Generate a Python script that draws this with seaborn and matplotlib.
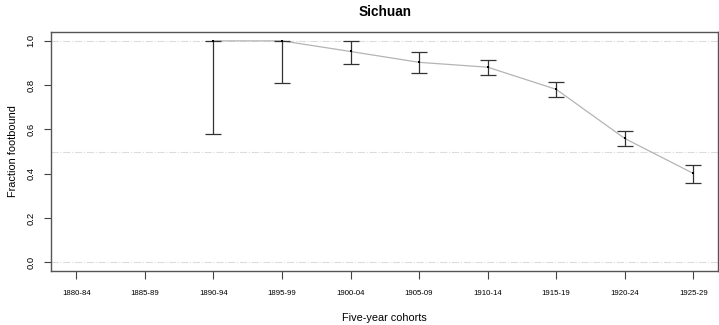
import numpy as np
import pandas as pd
import matplotlib
matplotlib.use("Agg")
import matplotlib.pyplot as plt
import seaborn as sns

cohorts = ['1880-84', '1885-89', '1890-94', '1895-99', '1900-04',
           '1905-09', '1910-14', '1915-19', '1920-24', '1925-29']
fraction = [np.nan, np.nan, 1.0, 1.0, 0.952, 0.903, 0.881, 0.781, 0.559, 0.401]
lower = [np.nan, np.nan, 0.577, 0.81, 0.897, 0.857, 0.846, 0.747, 0.525, 0.360]
upper = [np.nan, np.nan, 1.0, 1.0, 1.0, 0.949, 0.914, 0.814, 0.593, 0.440]
grid_levels = [0.0, 0.5, 1.0]

df = pd.DataFrame({'pos': np.arange(len(cohorts)), 'cohort': cohorts,
                   'fraction': fraction, 'lower': lower, 'upper': upper})
obs = df.dropna()

sns.set_style('white')
plt.rcParams['font.family'] = ['Liberation Sans', 'DejaVu Sans']
plt.rcParams['text.color'] = 'black'
plt.rcParams['axes.labelcolor'] = 'black'
plt.rcParams['xtick.color'] = 'black'
plt.rcParams['ytick.color'] = 'black'

fig = plt.figure(figsize=(7.19, 3.25), dpi=100)
ax = fig.add_axes([0.0709, 0.166, 0.9277, 0.7355])

for g in grid_levels:
    ax.axhline(g, color='#dcdcdc', lw=0.8, ls='-.', zorder=0)

sns.lineplot(data=obs, x='pos', y='fraction', color='#b4b4b4', lw=0.9, ax=ax, zorder=2)
ax.errorbar(obs['pos'], obs['fraction'],
            yerr=[obs['fraction'] - obs['lower'], obs['upper'] - obs['fraction']],
            fmt='none', ecolor='#333333', elinewidth=0.9, capsize=6, capthick=0.9, zorder=3)
sns.scatterplot(data=obs, x='pos', y='fraction', marker='s', s=2.5, color='black',
                edgecolor='black', linewidth=0, ax=ax, zorder=4)

ax.set_xlim(-0.37, 9.36)
ax.set_ylim(-0.04, 1.04)
ax.set_xticks(df['pos'])
ax.set_xticklabels(cohorts, fontsize=5.6)
ax.set_yticks([0, 0.2, 0.4, 0.6, 0.8, 1.0])
ax.set_yticklabels(['0.0', '0.2', '0.4', '0.6', '0.8', '1.0'], fontsize=6.8,
                   rotation=90, va='center')
ax.tick_params(axis='x', length=6, width=0.8, color='#444444', pad=8)
ax.tick_params(axis='y', length=5, width=0.8, color='#444444', pad=6)
ax.tick_params(left=True, bottom=True)
for sp in ax.spines.values():
    sp.set_color('#555555')
    sp.set_linewidth(1.0)

ax.set_xlabel('Five-year cohorts', fontsize=7.8, labelpad=11)
ax.set_ylabel('Fraction footbound', fontsize=7.8, labelpad=6)
fig.text(0.535, 0.985, 'Sichuan', fontsize=9.8, fontweight='bold',
         ha='center', va='top')

fig.savefig('out.png', dpi=100)
